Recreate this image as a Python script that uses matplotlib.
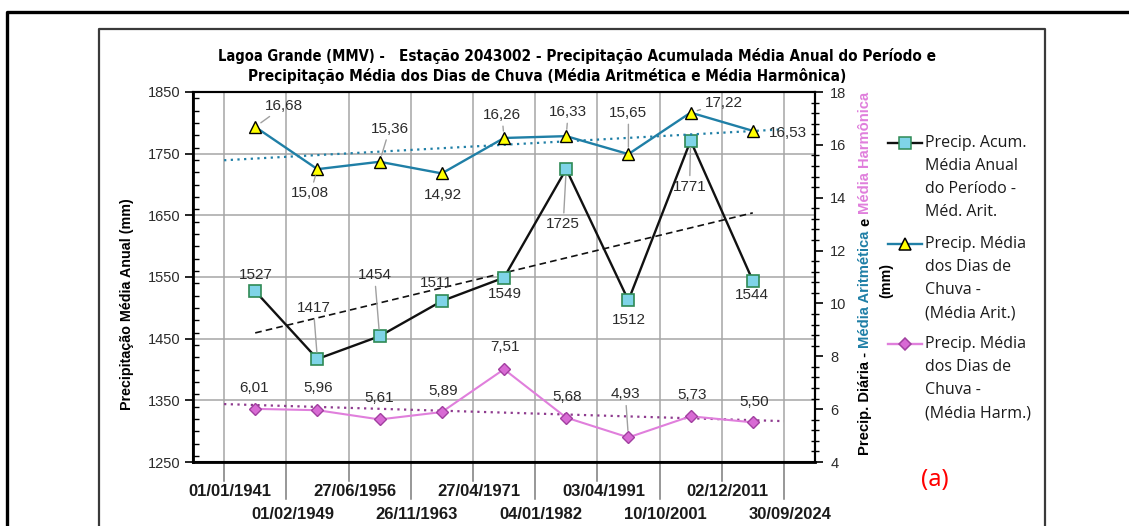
import matplotlib
matplotlib.use("Agg")
import matplotlib.pyplot as plt
import matplotlib.transforms as mtransforms
from matplotlib.lines import Line2D
from matplotlib.ticker import MultipleLocator
from matplotlib import font_manager as fm
import numpy as np

# ---- data -------------------------------------------------------------
date_labels = ["01/01/1941", "01/02/1949", "27/06/1956", "26/11/1963", "27/04/1971",
               "04/01/1982", "03/04/1991", "10/10/2001", "02/12/2011", "30/09/2024"]
precip_anual = [1527, 1417, 1454, 1511, 1549, 1725, 1512, 1771, 1544]
media_arit = [16.68, 15.08, 15.36, 14.92, 16.26, 16.33, 15.65, 17.22, 16.53]
media_harm = [6.01, 5.96, 5.61, 5.89, 7.51, 5.68, 4.93, 5.73, 5.50]

# ---- label placement (pixel offsets from each point, leader line flag) --
off_anual = [(1, 16, 0), (-4, 51, 1), (-5, 61, 1), (-5, 18, 0), (1, -16, 0),
             (-3, -55, 1), (0, -20, 0), (-1, -46, 1), (-1, -14, 0)]
off_arit = [(29, 21, 1), (-7, -24, 1), (10, 33, 1), (1, -22, 0), (-2, 23, 1),
            (2, 24, 1), (0, 41, 1), (33, 10, 1), (35, -2, 0)]
off_harm = [(-1, 21, 0), (1, 22, 0), (0, 21, 0), (1, 21, 0), (1, 22, 0),
            (1, 21, 0), (-3, 43, 1), (1, 21, 0), (1, 20, 0)]

C_BLACK = "#111111"
C_SQ_FACE, C_SQ_EDGE = "#7fd4e8", "#2f8a55"
C_TEAL = "#1f7fa6"
C_TRI_FACE = "#ffff00"
C_PINK = "#e07fdc"
C_DIA_FACE, C_DIA_EDGE = "#d86ad4", "#a13fa0"
C_HTREND = "#8e3a8e"
C_GRID = "#a6a6a6"
C_TXT = "#2b2b2b"

plt.rcParams["font.family"] = ["Liberation Sans", "DejaVu Sans"]


def condensed_bold():
    """Return FontProperties of an installed bold condensed face, if any."""
    pref = ["Liberation Sans Narrow", "DejaVu Sans", "Noto Sans", "Roboto", "Open Sans"]
    found = {}
    for f in fm.fontManager.ttflist:
        st = str(f.stretch).lower()
        try:
            w = int(f.weight)
        except (TypeError, ValueError):
            w = 700 if "bold" in str(f.weight).lower() else 400
        if ("condensed" in st or "narrow" in f.name.lower()) and w >= 600:
            found.setdefault(f.name, f.fname)
    for n in pref:
        if n in found:
            return fm.FontProperties(fname=found[n])
    return None


COND = condensed_bold()

W, H = 1129, 526
fig = plt.figure(figsize=(W / 100, H / 100), dpi=100)
fig.patch.set_facecolor("white")
renderer = fig.canvas.get_renderer()


def fx(px):
    return px / W


def fy(py):
    return 1 - py / H


# outer and inner frames
fig.add_artist(Line2D([fx(7), fx(7), fx(W)], [fy(H), fy(12), fy(12)],
                      transform=fig.transFigure, color="black", lw=2.4))
fig.add_artist(Line2D([fx(99), fx(99), fx(1045), fx(1045)], [fy(H), fy(29), fy(29), fy(H)],
                      transform=fig.transFigure, color="#3a3a3a", lw=1.6))

ax = fig.add_axes([fx(193), fy(462), fx(815) - fx(193), fy(92) - fy(462)])
ax2 = ax.twinx()
xs = np.arange(1, len(precip_anual) + 1)
bounds = np.arange(0.5, len(date_labels), 1.0)

ax.set_xlim(0, 10)
ax.set_ylim(1250, 1850)
ax2.set_ylim(4, 18)

ax.set_xticks(bounds)
ax.tick_params(axis="x", length=0, labelbottom=False)
ax.set_yticks(np.arange(1250, 1851, 100))
ax.yaxis.set_minor_locator(MultipleLocator(20))
ax2.set_yticks(np.arange(4, 19, 2))
ax2.yaxis.set_minor_locator(MultipleLocator(0.4))
ax.grid(True, which="major", color=C_GRID, lw=1.1)
ax.set_axisbelow(True)

ax.tick_params(axis="y", which="major", direction="out", length=6, width=1.2,
               labelsize=10.5, labelcolor=C_TXT, pad=3)
ax.tick_params(axis="y", which="minor", direction="in", length=4, width=1)
ax2.tick_params(axis="y", which="major", direction="out", length=6, width=1.2,
                labelsize=10.5, labelcolor=C_TXT, pad=5)
ax2.tick_params(axis="y", which="minor", direction="inout", length=6, width=1)

for a in (ax, ax2):
    for s in a.spines.values():
        s.set_color("black")
        s.set_linewidth(1.5)
ax.spines["left"].set_linewidth(2)
ax.spines["bottom"].set_linewidth(2)

# series
ax.plot(xs, precip_anual, color=C_BLACK, lw=1.7, marker="s", ms=8,
        mfc=C_SQ_FACE, mec=C_SQ_EDGE, mew=1.2, zorder=4)
ax2.plot(xs, media_arit, color=C_TEAL, lw=1.7, marker="^", ms=8.5,
         mfc=C_TRI_FACE, mec="black", mew=1.0, zorder=4)
ax2.plot(xs, media_harm, color=C_PINK, lw=1.5, marker="D", ms=6,
         mfc=C_DIA_FACE, mec=C_DIA_EDGE, mew=1.0, zorder=4)

# linear trends
p = np.polyfit(xs, precip_anual, 1)
tx = np.array([xs[0], xs[-1]])
ax.plot(tx, np.polyval(p, tx), color=C_BLACK, lw=1.2, ls=(0, (4, 2.5)), zorder=3)
te = np.array([bounds[0], bounds[-1]])
p = np.polyfit(xs, media_arit, 1)
ax2.plot(te, np.polyval(p, te), color=C_TEAL, lw=1.6, ls=(0, (1, 2)), zorder=3)
p = np.polyfit(xs, media_harm, 1)
ax2.plot(te, np.polyval(p, te), color=C_HTREND, lw=1.6, ls=(0, (1, 2)), zorder=3)

# value labels
leader = dict(arrowstyle="-", color="#a0a0a0", lw=1.0, shrinkA=1, shrinkB=5)


def label_series(a, vals, offs, fmt):
    for xi, v, (dx, dy, ln) in zip(xs, vals, offs):
        a.annotate(fmt(v), xy=(xi, v), xytext=(dx, dy), textcoords="offset pixels",
                   ha="center", va="center", fontsize=11, color=C_TXT, zorder=6,
                   arrowprops=leader if ln else None)


label_series(ax, precip_anual, off_anual, lambda v: f"{v:d}")
label_series(ax2, media_arit, off_arit, lambda v: f"{v:.2f}".replace(".", ","))
label_series(ax2, media_harm, off_harm, lambda v: f"{v:.2f}".replace(".", ","))

# date axis below the plot
blend = mtransforms.blended_transform_factory(ax.transData, ax.transAxes)
for i, (b, lab) in enumerate(zip(bounds, date_labels)):
    row2 = i % 2 == 1
    ax.plot([b, b], [0, -0.1 if row2 else -0.05], transform=blend, clip_on=False,
            color="#7a7a7a", lw=1.1)
    ax.text(b + 0.1, -0.143 if row2 else -0.081, lab, transform=blend, ha="center",
            va="center", color="#1a1a1a", fontsize=12, fontweight="bold")

# axis titles
fig.text(fx(127), fy(304), "Precipitação Média Anual (mm)", rotation=90, ha="center",
         va="center", fontsize=10.3, fontweight="bold", color="black")


def title_props():
    if COND is not None:
        return dict(fontproperties=COND.copy())
    return dict(fontweight="bold", family=["Liberation Sans", "DejaVu Sans"])


def title_text(x0, y0, s, size):
    t = fig.text(fx(x0), fy(y0), s, ha="left", va="baseline", color="black", **title_props())
    t.set_fontsize(size)
    return t


def run_text(x0, y0, pieces, size):
    """Rotated text made of differently coloured pieces sharing one baseline."""
    pos = 0.0
    for s, color, gap in pieces:
        t = fig.text(fx(x0), fy(y0 - pos), s, rotation=90, rotation_mode="anchor",
                     ha="left", va="baseline", color=color, fontsize=size, fontweight="bold")
        pos += t.get_window_extent(renderer).height + gap


run_text(869, 455, [("Precip. Diária -", "black", 4),
                    ("Média Aritmética", C_TEAL, 4),
                    ("e", "black", 4),
                    ("Média Harmônica", C_PINK, 0)], 10.6)
fig.text(fx(886), fy(280), "(mm)", rotation=90, ha="center", va="center",
         fontsize=10.3, fontweight="bold", color="black")

# chart title: second line sized to span ~595 px, first line uses the same size
line2 = title_text(248, 81, "Precipitação Média dos Dias de Chuva (Média Aritmética e Média Harmônica)", 12)
tsize = 12 * 595 / line2.get_window_extent(renderer).width
line2.set_fontsize(tsize)
lead = title_text(218, 61, "Lagoa Grande (MMV) -", tsize * 0.96)
x_next = 218 + lead.get_window_extent(renderer).width + 14
title_text(x_next, 61, "Estação 2043002 - Precipitação Acumulada Média Anual do Período e", tsize)

# legend
legend_items = [
    ((C_BLACK, "s", C_SQ_FACE, C_SQ_EDGE, 8),
     ["Precip. Acum.", "Média Anual", "do Período -", "Méd. Arit."], 143),
    ((C_TEAL, "^", C_TRI_FACE, "black", 8.5),
     ["Precip. Média", "dos Dias de", "Chuva -", "(Média Arit.)"], 244),
    ((C_PINK, "D", C_DIA_FACE, C_DIA_EDGE, 6),
     ["Precip. Média", "dos Dias de", "Chuva -", "(Média Harm.)"], 344),
]
for (lc, mk, mf, me, ms), lines, y0 in legend_items:
    fig.add_artist(Line2D([fx(888), fx(922)], [fy(y0), fy(y0)], transform=fig.transFigure,
                          color=lc, lw=1.7))
    fig.add_artist(Line2D([fx(905)], [fy(y0)], transform=fig.transFigure, marker=mk,
                          ms=ms, mfc=mf, mec=me, mew=1.1, lw=0))
    for k, ln in enumerate(lines):
        fig.text(fx(925), fy(y0 + 23 * k), ln, ha="left", va="center", fontsize=11.5,
                 color="#1a1a1a", family=["Open Sans", "DejaVu Sans"])

fig.text(fx(935), fy(480), "(a)", ha="center", va="center", fontsize=17,
         color="#ff0000", family=["Noto Sans", "DejaVu Sans"])

fig.savefig("out.png", dpi=100)
